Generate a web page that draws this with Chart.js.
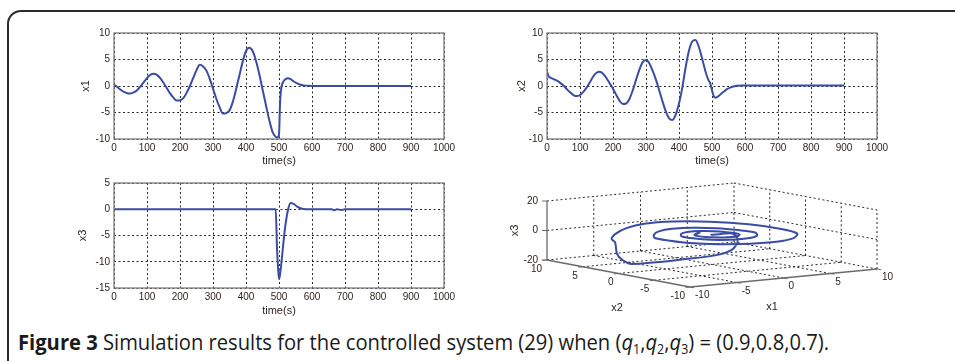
<!DOCTYPE html>
<html><head><meta charset="utf-8">
<script src="https://cdn.jsdelivr.net/npm/chart.js@4.4.1/dist/chart.umd.min.js"></script>
<style>
html,body{margin:0;padding:0;background:#fff;width:955px;height:361px;overflow:hidden;position:relative;}
#frame{position:absolute;left:7px;top:10px;width:1000px;height:420px;border:2px solid #2b2b2b;border-radius:14px;box-sizing:border-box;}
canvas{position:absolute;}
#cap{position:absolute;left:18px;top:330px;font-family:"Open Sans",sans-serif;font-size:22px;line-height:22px;color:#1a1a1a;white-space:nowrap;transform-origin:0 0;}
#cap b{font-weight:700}
#cap sub{font-size:0.62em;vertical-align:-0.3em;line-height:0}
</style></head><body>
<div id="frame"></div>
<canvas id="c1" width="390" height="145" style="left:74px;top:23px"></canvas>
<canvas id="c2" width="390" height="145" style="left:507px;top:23px"></canvas>
<canvas id="c3" width="390" height="145" style="left:74px;top:173px"></canvas>
<canvas id="c4" width="470" height="145" style="left:480px;top:175px"></canvas>
<div id="cap"><b>Figure 3</b> Simulation results for the controlled system (29) when (<i>q</i><sub>1</sub>,<i>q</i><sub>2</sub>,<i>q</i><sub>3</sub>) = (0.9,0.8,0.7).</div>
<script>
// ---------------- data ----------------
const time = [0,5,10,20,30,40,50,60,70,80,90,100,110,120,130,140,150,160,170,180,190,200,210,220,230,240,250,260,270,280,290,300,310,320,330,340,350,360,370,380,390,400,410,420,430,440,450,460,470,480,490,494,497,500,503,506,510,515,520,527,535,545,555,565,575,590,600,660,668,675,690,700,800,900];
const x1 = [0.3,0.05,-0.2,-0.7,-1.1,-1.35,-1.4,-1.2,-0.8,-0.1,0.7,1.5,2.1,2.3,2.1,1.5,0.6,-0.4,-1.4,-2.2,-2.75,-2.7,-2.3,-1.3,0.0,1.5,3.0,4.0,3.7,2.9,1.4,-0.5,-2.4,-4.0,-5.2,-5.1,-4.6,-3.0,-0.6,2.0,4.6,6.6,7.2,6.6,4.8,2.3,-0.6,-3.5,-6.3,-8.6,-9.6,-9.7,-9.6,-9.2,-3.5,-0.8,0.4,1.0,1.3,1.45,1.3,0.85,0.5,0.25,0.12,0.03,0,0,0,0,0,0,0,0];
const x2 = [2.7,1.8,1.6,1.3,1.0,0.6,0.1,-0.6,-1.2,-1.7,-1.9,-1.7,-1.1,-0.3,0.7,1.8,2.5,2.7,2.3,1.5,0.5,-0.5,-1.7,-2.8,-3.4,-3.3,-2.4,-0.8,1.2,3.1,4.5,4.9,4.3,2.9,1.2,-0.8,-2.9,-4.8,-6.1,-6.4,-5.4,-3.3,-0.3,3.5,6.6,8.4,8.7,7.4,5.2,2.8,1.0,0.6,0.0,-0.8,-1.5,-2.0,-2.2,-2.1,-1.9,-1.5,-1.1,-0.6,-0.3,-0.1,0.05,0.1,0.1,0.1,0.1,0.1,0.1,0.1,0.1,0.1];
const x3 = [0,0,0,0,0,0,0,0,0,0,0,0,0,0,0,0,0,0,0,0,0,0,0,0,0,0,0,0,0,0,0,0,0,0,0,0,0,0,0,0,0,0,0,0,0,0,0,0,0,0,0,-7.5,-11,-13.3,-12.5,-11,-8.5,-5.4,-2.8,-0.2,1.2,1.0,0.5,0.2,0.05,0,0,0,-0.2,0,-0.15,0,0,0];
const timeTicks = [0,100,200,300,400,500,600,700,800,900,1000];
const x12Ticks = [-10,-5,0,5,10];
const x3Ticks = [-15,-10,-5,0,5];
const axis3DTicks = [-10,-5,0,5,10];
const z3DTicks = [-20,0,20];

// ---------------- style ----------------
const LINE = '#3a4ca3';
const TXT = '#2e2520';
const FONT = '"Liberation Sans", Arial, sans-serif';
Chart.defaults.font.family = FONT;
Chart.defaults.animation = false;

const boxPlugin = {
  id:'box',
  afterDatasetsDraw(chart){
    const {ctx, chartArea:a} = chart;
    ctx.save(); ctx.setLineDash([]); ctx.strokeStyle='#7d7d7d'; ctx.lineWidth=1.3;
    ctx.strokeRect(a.left, a.top, a.right-a.left, a.bottom-a.top);
    ctx.restore();
  }
};

function make2D(id, values, yTicks, yTitle, yTitlePad, xH){
  const pts = time.map((t,i)=>({x:t, y:values[i]}));
  new Chart(document.getElementById(id), {
    type:'line',
    data:{datasets:[{data:pts, borderColor:LINE, borderWidth:2, pointRadius:0, fill:false, cubicInterpolationMode:'monotone'}]},
    options:{
      responsive:false, animation:false,
      layout:{padding:{left:0, top:10, right:20, bottom:0}},
      plugins:{legend:{display:false}, tooltip:{enabled:false}},
      scales:{
        x:{type:'linear', min:timeTicks[0], max:timeTicks[timeTicks.length-1],
           afterBuildTicks:s=>{s.ticks = timeTicks.map(v=>({value:v}));},
           afterFit:s=>{s.height = xH;},
           ticks:{color:TXT, font:{size:10}, padding:3, maxRotation:0, autoSkip:false, callback:v=>String(v)},
           grid:{color:'#111', lineWidth:0.9, drawTicks:false},
           border:{display:false, dash:[2,2.5]},
           title:{display:true, text:'time(s)', color:TXT, font:{size:11}, padding:{top:0,bottom:0}}},
        y:{type:'linear', min:yTicks[0], max:yTicks[yTicks.length-1],
           afterBuildTicks:s=>{s.ticks = yTicks.map(v=>({value:v}));},
           afterFit:s=>{s.width = 40;},
           ticks:{color:TXT, font:{size:10}, padding:4, callback:v=>String(v)},
           grid:{color:'#111', lineWidth:0.9, drawTicks:false},
           border:{display:false, dash:[2,2.5]},
           title:{display:true, text:yTitle, color:TXT, font:{size:11}, padding:{top:yTitlePad,bottom:0}}}
      }
    },
    plugins:[boxPlugin]
  });
}
make2D('c1', x1, x12Ticks, 'x1', 5.4, 29);
make2D('c2', x2, x12Ticks, 'x2', 8.1, 29);
make2D('c3', x3, x3Ticks, 'x3', 2.1, 30);

// ---------------- 3D view ----------------
// screen direction (right, up) of one unit along each axis
const V1 = [9.35, 0.9], V2 = [-7.15, 1.35], V3 = [0, 1.475];
function proj(a,b,c){ return {x:a*V1[0]+b*V2[0]+c*V3[0], y:a*V1[1]+b*V2[1]+c*V3[1]}; }

const frame3D = {
  id:'frame3D',
  beforeDatasetsDraw(chart){
    const ctx = chart.ctx, sx = chart.scales.x, sy = chart.scales.y;
    const P = (a,b,c)=>{const q=proj(a,b,c); return [sx.getPixelForValue(q.x), sy.getPixelForValue(q.y)];};
    const seg = (p,q)=>{ctx.beginPath(); ctx.moveTo(p[0],p[1]); ctx.lineTo(q[0],q[1]); ctx.stroke();};
    const lo = axis3DTicks[0], hi = axis3DTicks[axis3DTicks.length-1];
    const zlo = z3DTicks[0], zhi = z3DTicks[z3DTicks.length-1];
    ctx.save();
    ctx.strokeStyle='#111'; ctx.lineWidth=0.9; ctx.setLineDash([2,2.5]);
    axis3DTicks.forEach(v=>{
      if (v>lo) seg(P(v,hi,zlo), P(v,hi,zhi));
      if (v<hi) seg(P(hi,v,zlo), P(hi,v,zhi));
      if (v>lo) seg(P(v,lo,zlo), P(v,hi,zlo));
      if (v>lo) seg(P(lo,v,zlo), P(hi,v,zlo));
    });
    z3DTicks.forEach(z=>{
      if (z>zlo){ seg(P(lo,hi,z), P(hi,hi,z)); seg(P(hi,hi,z), P(hi,lo,z)); }
    });
    ctx.setLineDash([]); ctx.strokeStyle='#6a6a6a'; ctx.lineWidth=1.3;
    seg(P(lo,hi,zlo), P(lo,hi,zhi));
    seg(P(lo,hi,zlo), P(lo,lo,zlo));
    seg(P(lo,lo,zlo), P(hi,lo,zlo));
    // tick marks
    ctx.lineWidth=1;
    z3DTicks.forEach(z=>{const p=P(lo,hi,z); seg([p[0]-5,p[1]],p);});
    axis3DTicks.forEach(v=>{
      const p=P(lo,v,zlo); seg(p,[p[0]-4.5,p[1]+0.45]);
      const q=P(v,lo,zlo); seg(q,[q[0]+4,q[1]+0.75]);
    });
    // labels
    ctx.fillStyle=TXT; ctx.font='10px '+FONT; ctx.textBaseline='middle';
    ctx.textAlign='right';
    z3DTicks.forEach(z=>{const p=P(lo,hi,z); ctx.fillText(String(z), p[0]-9, p[1]);});
    axis3DTicks.forEach(v=>{const p=P(lo,v,zlo); ctx.fillText(String(v), p[0]-5, p[1]+9);});
    ctx.textAlign='left';
    axis3DTicks.forEach(v=>{const p=P(v,lo,zlo); ctx.fillText(String(v), p[0]+5, p[1]+8.5);});
    ctx.font='11px '+FONT; ctx.textAlign='center';
    const t2=P(lo,0,zlo); ctx.fillText('x2', t2[0]-1.5, t2[1]+34.5);
    const t1=P(0,lo,zlo); ctx.fillText('x1', t1[0]-11.5, t1[1]+29);
    const t3=P(lo,hi,0); ctx.save(); ctx.translate(t3[0]-32, t3[1]); ctx.rotate(-Math.PI/2); ctx.fillText('x3',0,0); ctx.restore();
    ctx.restore();
  }
};

new Chart(document.getElementById('c4'), {
  type:'scatter',
  data:{datasets:[{data:time.map((t,i)=>proj(x1[i],x2[i],x3[i])), showLine:true, borderColor:LINE, borderWidth:2, pointRadius:0, tension:0.3}]},
  options:{
    responsive:false, animation:false,
    layout:{padding:0},
    plugins:{legend:{display:false}, tooltip:{enabled:false}},
    scales:{
      x:{type:'linear', display:false, min:-232, max:238},
      y:{type:'linear', display:false, min:-85, max:60}
    }
  },
  plugins:[frame3D]
});

// caption fit
function fitCap(){
  const c=document.getElementById('cap');
  c.style.transform='none';
  const w=c.getBoundingClientRect().width;
  c.style.transform='scaleX('+(811/w)+')';
}
fitCap();
if (document.fonts && document.fonts.ready) document.fonts.ready.then(fitCap);
</script>
</body></html>
